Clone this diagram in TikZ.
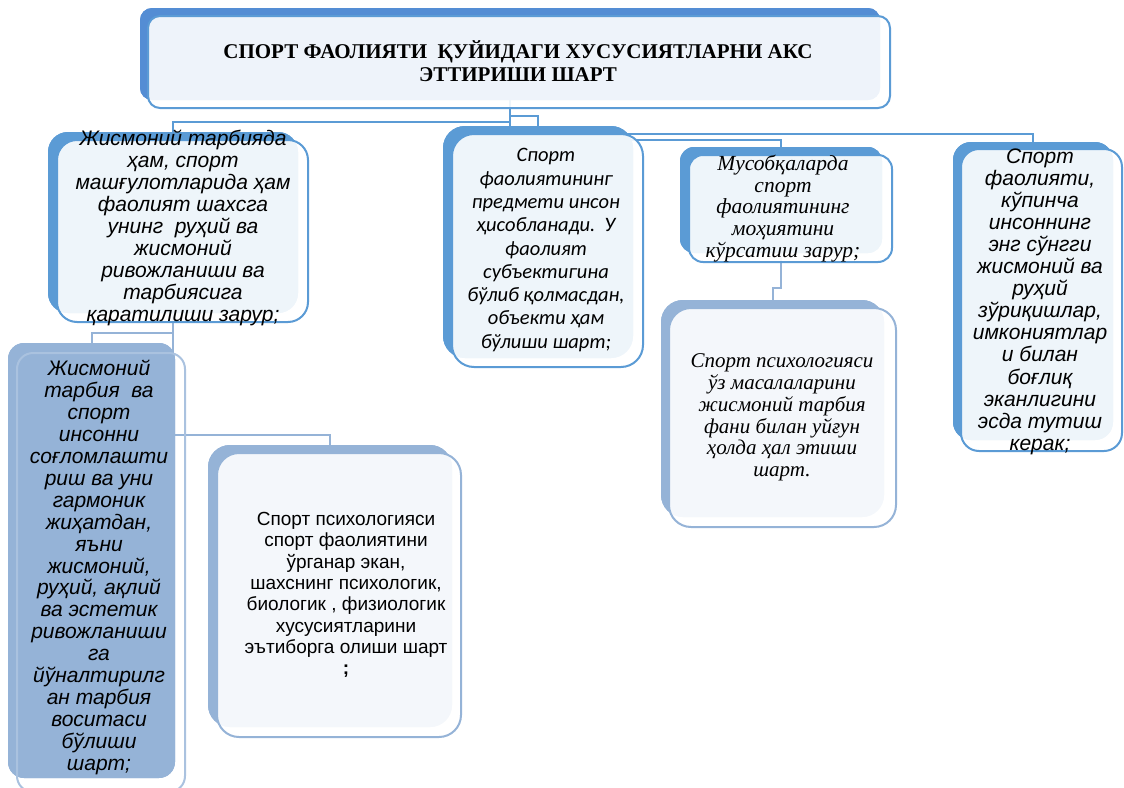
\documentclass[tikz,border=0pt]{standalone}
\usepackage{fontspec}
\setmainfont{Liberation Serif}
\newfontfamily\fA{Liberation Sans}
\newfontfamily\fC{Carlito}
\newfontfamily\fT{Liberation Serif}
\definecolor{bkT}{HTML}{548DD4}
\definecolor{bk1}{HTML}{5B9BD5}
\definecolor{ln1}{HTML}{5B9BD5}
\definecolor{bk2}{HTML}{95B3D7}
\definecolor{ln2}{HTML}{95B3D7}
\tikzset{
  bx/.style={rectangle, inner sep=0pt, outer sep=0pt},
  backT/.style={bx, fill=bkT, draw=none},
  back1/.style={bx, fill=bk1, draw=none},
  back2/.style={bx, fill=bk2, draw=none},
  front1/.style={bx, fill=white, fill opacity=0.9, draw=ln1, draw opacity=1, line width=2pt},
  front2/.style={bx, fill=white, fill opacity=0.9, draw=ln2, draw opacity=1, line width=2pt},
  frontE/.style={bx, fill=none, draw=ln2!80!white, line width=2pt},
  c1/.style={draw=ln1, line width=2pt},
  c2/.style={draw=ln2, line width=2pt},
  txt/.style={inner sep=0pt, align=center, text=black}
}
\begin{document}
\begin{tikzpicture}[x=1pt,y=-1pt]
\useasboundingbox (0,0) rectangle (1124,787);
% back shapes (also anchors for connectors)
\node[backT, minimum width=740, minimum height=92, rounded corners=12] (Tb) at (510,54) {};
\node[back1, minimum width=250, minimum height=181, rounded corners=20] (Ab) at (173,222.5) {};
\node[back1, minimum width=190, minimum height=232, rounded corners=22] (Bb) at (538,242) {};
\node[back1, minimum width=202, minimum height=106, rounded corners=14] (Cb) at (781,200) {};
\node[back1, minimum width=160, minimum height=298, rounded corners=18] (Db) at (1033,291) {};
\node[back2, minimum width=167, minimum height=435, rounded corners=16] (Eb) at (91.5,560.5) {};
\node[back2, minimum width=244, minimum height=282, rounded corners=22] (Fb) at (330,586) {};
\node[back2, minimum width=223, minimum height=217, rounded corners=22] (Gb) at (772.5,408.5) {};
% connectors
\draw[c1] (Tb.south) -- ++(0,22) -| (Ab.north);
\draw[c1] (Tb.south) -- ++(0,16) -| (Bb.north);
\draw[c1] (Tb.south) -- ++(0,34) -| (Db.north);
\draw[c1] (Tb.south) -- ++(0,40) -| (Cb.north);
\draw[c2] (Ab.south) -- ++(0,20) -| (Eb.north);
\draw[c2] (Ab.south) -- ++(0,122) -| (Fb.north);
\draw[c2] (Cb.south) -- ++(0,35) -| (Gb.north);
% back shapes again, over the connectors
\node[backT, minimum width=740, minimum height=92, rounded corners=12] (Tb2) at (510,54) {};
\node[back1, minimum width=250, minimum height=181, rounded corners=20] (Ab2) at (173,222.5) {};
\node[back1, minimum width=190, minimum height=232, rounded corners=22] (Bb2) at (538,242) {};
\node[back1, minimum width=202, minimum height=106, rounded corners=14] (Cb2) at (781,200) {};
\node[back1, minimum width=160, minimum height=298, rounded corners=18] (Db2) at (1033,291) {};
\node[back2, minimum width=167, minimum height=435, rounded corners=16] (Eb2) at (91.5,560.5) {};
\node[back2, minimum width=244, minimum height=282, rounded corners=22] (Fb2) at (330,586) {};
\node[back2, minimum width=223, minimum height=217, rounded corners=22] (Gb2) at (772.5,408.5) {};
% front shapes
\node[front1, minimum width=742, minimum height=92, rounded corners=12] (Tf) at (519,62) {};
\node[front1, minimum width=251, minimum height=182, rounded corners=20] (Af) at (182.5,231) {};
\node[front1, minimum width=191, minimum height=233, rounded corners=22] (Bf) at (547.5,250.5) {};
\node[front1, minimum width=203, minimum height=107, rounded corners=14] (Cf) at (790.5,208.5) {};
\node[front1, minimum width=161, minimum height=302, rounded corners=18] (Df) at (1041.5,300) {};
\node[frontE, minimum width=168, minimum height=439, rounded corners=16] (Ef) at (101,572.5) {};
\node[front2, minimum width=244, minimum height=284, rounded corners=22] (Ff) at (339,595) {};
\node[front2, minimum width=227, minimum height=219, rounded corners=22] (Gf) at (782.5,417.5) {};
% texts
\node[txt, font=\fT\bfseries\fontsize{21}{23}\selectfont] (tT) at (518,61.5)
  {СПОРТ ФАОЛИЯТИ\ \ ҚУЙИДАГИ ХУСУСИЯТЛАРНИ АКС\\ЭТТИРИШИ ШАРТ};
\node[txt, font=\fA\itshape\fontsize{21}{21.9}\selectfont] (tA) at (183,228)
  {Жисмоний тарбияда\\ҳам, спорт\\машғулотларида ҳам\\фаолият шахсга\\унинг\ \ руҳий ва\\жисмоний\\ривожланиши ва\\тарбиясига\\қаратилиши зарур;};
\node[txt, font=\fC\itshape\fontsize{20.5}{23.3}\selectfont] (tB) at (546,250)
  {Спорт\\фаолиятининг\\предмети инсон\\ҳисобланади.\ \ У\\фаолият\\субъектигина\\бўлиб қолмасдан,\\объекти ҳам\\бўлиши шарт;};
\node[txt, font=\fT\itshape\fontsize{21.5}{21.8}\selectfont] (tC) at (783,208.5)
  {Мусобқаларда\\спорт\\фаолиятининг\\моҳиятини\\кўрсатиш зарур;};
\node[txt, font=\fA\itshape\fontsize{21}{22.1}\selectfont] (tD) at (1040,301.5)
  {Спорт\\фаолияти,\\кўпинча\\инсоннинг\\энг сўнгги\\жисмоний ва\\руҳий\\зўриқишлар,\\имкониятлар\\и билан\\боғлиқ\\эканлигини\\эсда тутиш\\керак;};
\node[txt, font=\fA\itshape\fontsize{21}{21.9}\selectfont] (tE) at (99,567.5)
  {Жисмоний\\тарбия\ \ ва\\спорт\\инсонни\\соғломлашти\\риш ва уни\\гармоник\\жиҳатдан,\\яъни\\жисмоний,\\руҳий, ақлий\\ва эстетик\\ривожланиши\\га\\йўналтирилг\\ан тарбия\\воситаси\\бўлиши\\шарт;};
\node[txt, font=\fA\fontsize{19}{21.3}\selectfont] (tF) at (346,595)
  {Спорт психологияси\\спорт фаолиятини\\ўрганар экан,\\шахснинг психологик,\\биологик , физиологик\\хусусиятларини\\эътиборга олиши шарт\\\textbf{;}};
\node[txt, font=\fT\itshape\fontsize{21}{21.8}\selectfont] (tG) at (782,417.5)
  {Спорт психологияси\\ўз масалаларини\\жисмоний тарбия\\фани билан уйғун\\ҳолда ҳал этиши\\шарт.};
\end{tikzpicture}
\end{document}
